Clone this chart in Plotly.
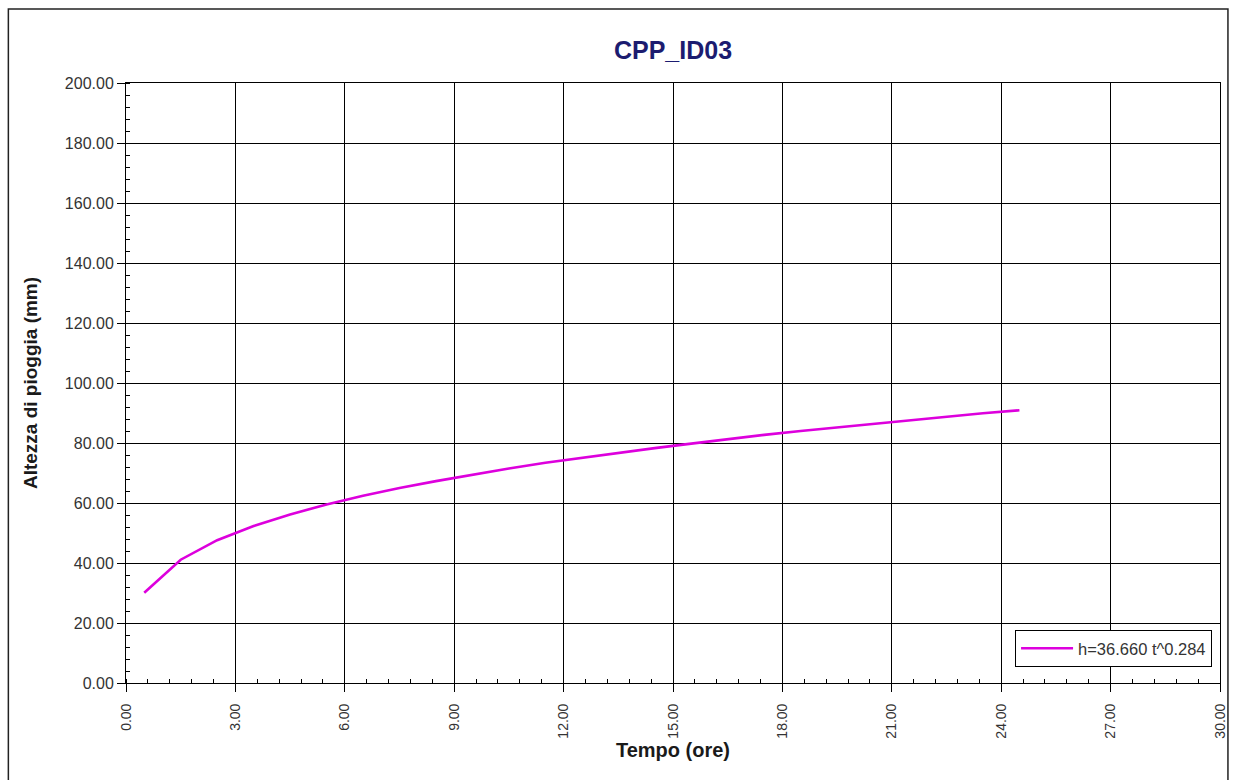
import plotly.graph_objects as go

# Data
tempo = [0.5, 1.5, 2.5, 3.5, 4.5, 5.5, 6.5, 7.5, 8.5, 9.5, 10.5, 11.5, 12.5,
         13.5, 14.5, 15.5, 16.5, 17.5, 18.5, 19.5, 20.5, 21.5, 22.5, 23.5, 24.5]
altezza = [30.1, 41.1, 47.6, 52.3, 56.2, 59.5, 62.4, 65.0, 67.3, 69.5, 71.5, 73.4, 75.1,
           76.8, 78.3, 79.8, 81.3, 82.7, 84.0, 85.2, 86.4, 87.6, 88.8, 89.9, 90.9]
series_name = "h=36.660 t^0.284"
x_ticks = [0, 3, 6, 9, 12, 15, 18, 21, 24, 27, 30]
y_ticks = [0, 20, 40, 60, 80, 100, 120, 140, 160, 180, 200]

FONT = "Liberation Sans, Arial, sans-serif"

fig = go.Figure()
fig.add_trace(go.Scatter(
    x=tempo, y=altezza, mode="lines", name=series_name,
    line=dict(color="#DD00DD", width=2.6),
))

W, H = 1231, 780
L, T = 126, 83
R = W - 1228
B = H - 683
pw, ph = W - L - R, H - T - B

def px(x):
    return (x - L) / pw

def py(y):
    return (H - B - y) / ph

fig.update_layout(
    width=W, height=H,
    margin=dict(l=L, r=R, t=T, b=B),
    paper_bgcolor="white", plot_bgcolor="white",
    font=dict(family=FONT, size=16, color="#333333"),
    title=dict(text="<b>CPP_ID03</b>", x=0.5, xref="paper", xanchor="center",
               y=1 - 50 / H, yanchor="middle",
               font=dict(family=FONT, size=25, color="#1c1c70")),
    showlegend=True,
    legend=dict(x=px(1220), xanchor="right", y=py(667), yanchor="bottom",
                bgcolor="white", bordercolor="black", borderwidth=1,
                font=dict(family=FONT, size=16.5, color="#333333"),
                itemwidth=52),
    xaxis=dict(
        range=[0, 30], tickvals=x_ticks, ticktext=[f"{v:.2f}" for v in x_ticks],
        tickangle=-90, tickfont=dict(family=FONT, size=14, color="#333333"),
        ticklabelstandoff=6, ticklabeloverflow="allow",
        showgrid=True, gridcolor="black", gridwidth=1,
        zeroline=False, showline=True, linecolor="black", linewidth=1, mirror=True,
        ticks="outside", ticklen=8, tickcolor="black",
        minor=dict(dtick=0.6, ticks="inside", ticklen=4, tickcolor="black", showgrid=False),
        title=dict(text="<b>Tempo (ore)</b>", font=dict(family=FONT, size=20, color="#1a1a1a"), standoff=4),
    ),
    yaxis=dict(
        range=[0, 200], tickvals=y_ticks, ticktext=[f"{v:.2f}" for v in y_ticks],
        tickfont=dict(family=FONT, size=16, color="#333333"),
        showgrid=True, gridcolor="black", gridwidth=1,
        zeroline=False, showline=True, linecolor="black", linewidth=1, mirror=True,
        ticks="outside", ticklen=8, tickcolor="black",
        minor=dict(dtick=4, ticks="inside", ticklen=4, tickcolor="black", showgrid=False),
        title=dict(text="<b>Altezza di pioggia (mm)</b>", font=dict(family=FONT, size=19, color="#1a1a1a"), standoff=22),
    ),
    shapes=[dict(
        type="rect", xref="paper", yref="paper",
        x0=px(7.5), x1=px(1236),
        y0=py(800), y1=py(9),
        line=dict(color="#222222", width=1.5), fillcolor="rgba(0,0,0,0)", layer="above",
    )],
)

fig.write_html(
    "out.html", config={"displayModeBar": False},
    post_script=(
        "document.body.style.margin='0';document.body.style.overflow='hidden';"
        "document.querySelectorAll('svg.main-svg').forEach(function(s){s.style.overflow='visible';});"
    ),
)
